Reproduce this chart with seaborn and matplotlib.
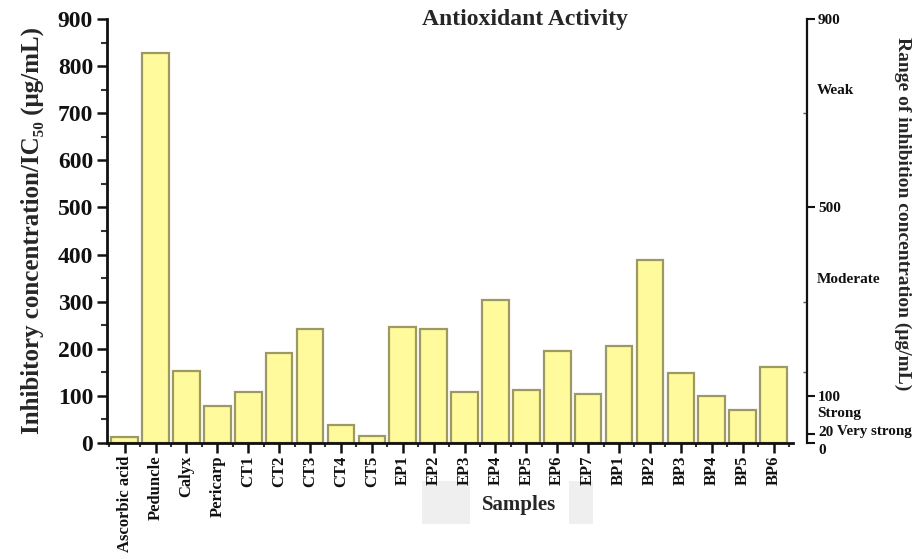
import matplotlib
matplotlib.use("Agg")
import matplotlib.pyplot as plt
import matplotlib.transforms as mtrans
import seaborn as sns
import pandas as pd
from matplotlib.ticker import MultipleLocator, FixedLocator
from matplotlib.patches import Rectangle

samples = ["Ascorbic acid", "Peduncle", "Calyx", "Pericarp", "CT1", "CT2", "CT3", "CT4", "CT5",
           "EP1", "EP2", "EP3", "EP4", "EP5", "EP6", "EP7",
           "BP1", "BP2", "BP3", "BP4", "BP5", "BP6"]
ic50 = [12, 828, 153, 79, 108, 191, 243, 38, 15,
        247, 243, 108, 304, 113, 196, 104,
        206, 389, 149, 100, 70, 162]
right_ticks = [0, 20, 100, 500, 900]
range_labels = ["Weak", "Moderate", "Strong", "Very strong"]
range_label_vals = [748, 347, 62, 25]

sns.set_theme(style="white")
plt.rcParams['font.family'] = ['Liberation Serif', 'DejaVu Serif']
plt.rcParams['font.weight'] = 'bold'

df = pd.DataFrame({"Sample": samples, "IC50": ic50})

fig = plt.figure(figsize=(9.17, 5.59), dpi=100)

# Samples label grey backdrop (behind everything)
fig.patches.append(Rectangle((422/917, 1-524/559), (593-422)/917, (524-481)/559,
                             transform=fig.transFigure, facecolor="#EFEFEF", edgecolor="none", zorder=-5))
fig.patches.append(Rectangle((470/917, 1-524/559), (569-470)/917, (524-481)/559,
                             transform=fig.transFigure, facecolor="white", edgecolor="none", zorder=-4))

ax = fig.add_axes([107/917, 1-443/559, (793-107)/917, (443-19)/559])
ax.patch.set_alpha(0)

sns.barplot(data=df, x="Sample", y="IC50", color="#FFFA9C", edgecolor="#9C9A62",
            linewidth=1.6, saturation=1, width=0.86, ax=ax)

ax.set_ylim(0, 900)
ax.set_xlim(-0.57, len(samples) - 1 + 0.63)
ax.yaxis.set_major_locator(MultipleLocator(100))
ax.yaxis.set_minor_locator(MultipleLocator(50))
ax.xaxis.set_minor_locator(FixedLocator([i + 0.5 for i in range(-1, len(samples))]))

for s in ["top", "right"]:
    ax.spines[s].set_visible(False)
for s in ["left", "bottom"]:
    ax.spines[s].set_linewidth(2)
    ax.spines[s].set_color("#111111")

ax.tick_params(axis="y", which="major", direction="out", length=7, width=1.8, labelsize=17,
               left=True, colors="#111111", pad=3)
ax.tick_params(axis="y", which="minor", direction="out", length=4, width=1.5, left=True, color="#333333")
ax.tick_params(axis="x", which="major", direction="out", length=7, width=1.8, labelsize=12,
               bottom=True, labelrotation=90, colors="#111111", pad=2)
ax.tick_params(axis="x", which="minor", direction="out", length=3, width=1.5, bottom=True, color="#333333")
for lbl in ax.get_yticklabels() + ax.get_xticklabels():
    lbl.set_fontweight("bold")

ax.set_ylabel("Inhibitory concentration/IC₅₀ (μg/mL)", fontsize=18, fontweight="bold")
ax.yaxis.set_label_coords((44-107)/686, 0.5)
ax.set_xlabel("")

# Title
fig.text(525/917, 1-20/559, "Antioxidant Activity", ha="center", va="center",
         fontsize=17, fontweight="bold")
fig.text(519/917, 1-505/559, "Samples", ha="center", va="center", fontsize=15, fontweight="bold")

# Right axis
ax2 = ax.twinx()
ax2.patch.set_alpha(0)
ax2.set_ylim(0, 900)
for s in ["top", "left", "bottom"]:
    ax2.spines[s].set_visible(False)
ax2.spines["right"].set_position(("outward", 10))
ax2.spines["right"].set_linewidth(1.6)
ax2.spines["right"].set_color("#111111")
ax2.set_yticks(right_ticks)
ax2.set_yticklabels([str(t) for t in right_ticks])
ax2.tick_params(axis="y", which="major", direction="out", length=6, width=1.5, labelsize=11,
                right=True, colors="#111111", pad=2)
ax2.yaxis.set_minor_locator(FixedLocator([150, 300, 700]))
ax2.tick_params(axis="y", which="minor", direction="in", length=3, width=1, right=True, color="#555555")
offsets = {"0": -6, "20": 3}
for lbl in ax2.get_yticklabels():
    lbl.set_fontweight("bold")
    dy = offsets.get(lbl.get_text(), 0)
    if dy:
        lbl.set_transform(lbl.get_transform() + mtrans.ScaledTranslation(0, dy/100, fig.dpi_scale_trans))

for name, v in zip(range_labels[:3], range_label_vals[:3]):
    ax2.text(1.035, v, name, transform=ax2.get_yaxis_transform(), ha="left", va="center",
             fontsize=11, fontweight="bold", color="#111111")
ax2.text((837-107)/686, range_label_vals[3], range_labels[3], transform=ax2.get_yaxis_transform(),
         ha="left", va="center", fontsize=10.8, fontweight="bold", color="#111111")

ax2.set_ylabel("Range of inhibition concentration (μg/mL)", fontsize=14, fontweight="bold",
               rotation=270)
ax2.yaxis.set_label_coords((911-107)/686, 0.54)

fig.savefig("out.png", dpi=100, facecolor="white")
